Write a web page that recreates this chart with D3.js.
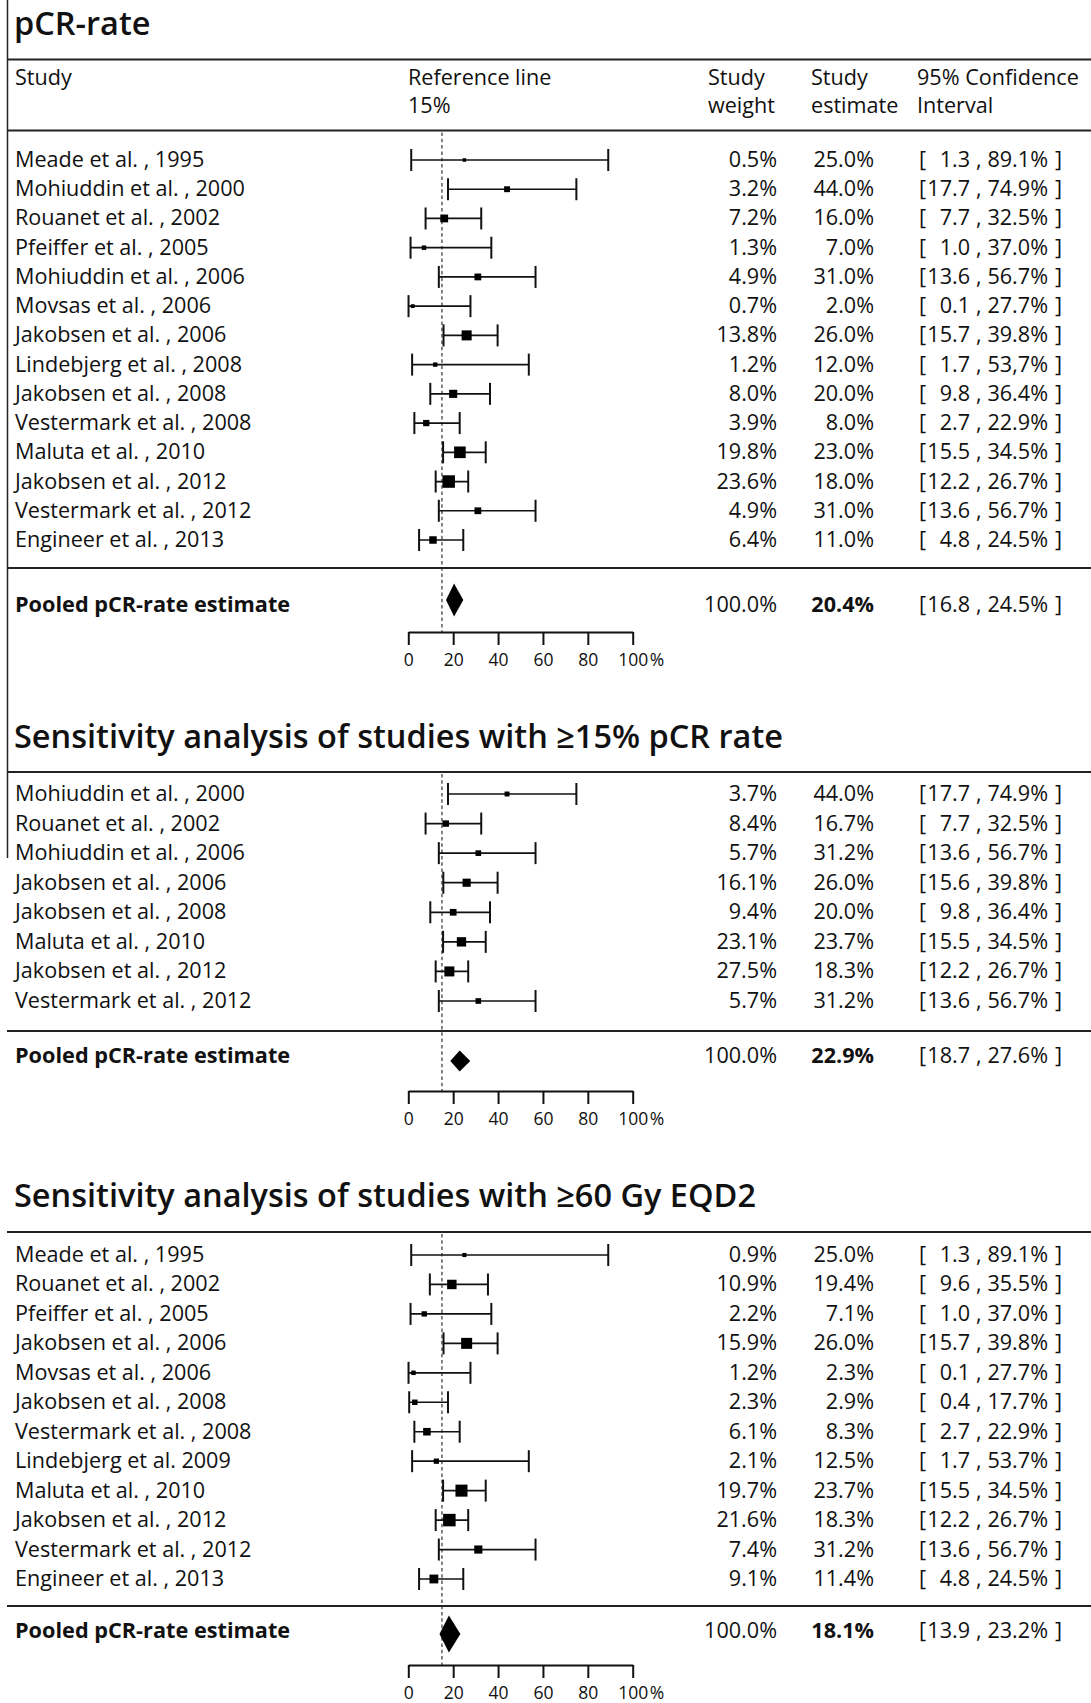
<!DOCTYPE html>
<html>
<head>
<meta charset="utf-8">
<script src="https://cdn.jsdelivr.net/npm/d3@7"></script>
<style>
  body { margin: 0; background: #fff; }
  svg text { font-family: "Open Sans", "Noto Sans", sans-serif; fill: #111; }
</style>
</head>
<body>
<svg id="chart" width="1091" height="1703"></svg>
<script>
// ---- Data: all studies (pCR-rate) ----
const allStudies = ["Meade et al. , 1995", "Mohiuddin et al. , 2000", "Rouanet et al. , 2002", "Pfeiffer et al. , 2005",
  "Mohiuddin et al. , 2006", "Movsas et al. , 2006", "Jakobsen et al. , 2006", "Lindebjerg et al. , 2008",
  "Jakobsen et al. , 2008", "Vestermark et al. , 2008", "Maluta et al. , 2010", "Jakobsen et al. , 2012",
  "Vestermark et al. , 2012", "Engineer et al. , 2013"];
const allWeight   = ["0.5", "3.2", "7.2", "1.3", "4.9", "0.7", "13.8", "1.2", "8.0", "3.9", "19.8", "23.6", "4.9", "6.4"];
const allEstimate = ["25.0", "44.0", "16.0", "7.0", "31.0", "2.0", "26.0", "12.0", "20.0", "8.0", "23.0", "18.0", "31.0", "11.0"];
const allLower    = ["1.3", "17.7", "7.7", "1.0", "13.6", "0.1", "15.7", "1.7", "9.8", "2.7", "15.5", "12.2", "13.6", "4.8"];
const allUpper    = ["89.1", "74.9", "32.5", "37.0", "56.7", "27.7", "39.8", "53,7", "36.4", "22.9", "34.5", "26.7", "56.7", "24.5"];
const allPooled   = { weight: "100.0", estimate: "20.4", lower: "16.8", upper: "24.5" };

// ---- Data: studies with >=15% pCR rate ----
const highStudies = ["Mohiuddin et al. , 2000", "Rouanet et al. , 2002", "Mohiuddin et al. , 2006", "Jakobsen et al. , 2006",
  "Jakobsen et al. , 2008", "Maluta et al. , 2010", "Jakobsen et al. , 2012", "Vestermark et al. , 2012"];
const highWeight   = ["3.7", "8.4", "5.7", "16.1", "9.4", "23.1", "27.5", "5.7"];
const highEstimate = ["44.0", "16.7", "31.2", "26.0", "20.0", "23.7", "18.3", "31.2"];
const highLower    = ["17.7", "7.7", "13.6", "15.6", "9.8", "15.5", "12.2", "13.6"];
const highUpper    = ["74.9", "32.5", "56.7", "39.8", "36.4", "34.5", "26.7", "56.7"];
const highPooled   = { weight: "100.0", estimate: "22.9", lower: "18.7", upper: "27.6" };

// ---- Data: studies with >=60 Gy EQD2 ----
const doseStudies = ["Meade et al. , 1995", "Rouanet et al. , 2002", "Pfeiffer et al. , 2005", "Jakobsen et al. , 2006",
  "Movsas et al. , 2006", "Jakobsen et al. , 2008", "Vestermark et al. , 2008", "Lindebjerg et al. 2009",
  "Maluta et al. , 2010", "Jakobsen et al. , 2012", "Vestermark et al. , 2012", "Engineer et al. , 2013"];
const doseWeight   = ["0.9", "10.9", "2.2", "15.9", "1.2", "2.3", "6.1", "2.1", "19.7", "21.6", "7.4", "9.1"];
const doseEstimate = ["25.0", "19.4", "7.1", "26.0", "2.3", "2.9", "8.3", "12.5", "23.7", "18.3", "31.2", "11.4"];
const doseLower    = ["1.3", "9.6", "1.0", "15.7", "0.1", "0.4", "2.7", "1.7", "15.5", "12.2", "13.6", "4.8"];
const doseUpper    = ["89.1", "35.5", "37.0", "39.8", "27.7", "17.7", "22.9", "53.7", "34.5", "26.7", "56.7", "24.5"];
const dosePooled   = { weight: "100.0", estimate: "18.1", lower: "13.9", upper: "23.2" };

const referenceLine = 15;
const axisTicks = [0, 20, 40, 60, 80, 100];

// values are kept as printed; a decimal comma is read as a point
const num = s => parseFloat(String(s).replace(",", "."));

const svg = d3.select("#chart");
const W = 1091;
const FS = "21.6px";

// shared horizontal scale for the percentage axis
const x = d3.scaleLinear().domain([0, 100]).range([408.3, 632.7]);

// column anchors
const col = { study: 15, weightR: 777, estR: 874, ciOpen: 919, ciLowR: 970, ciComma: 976, ciUpR: 1048, ciClose: 1055 };

const sections = [
  { title: "pCR-rate", titleY: 35, ruleTop: 59.5, header: true, ruleHead: 130.5,
    studies: allStudies, weight: allWeight, est: allEstimate, lo: allLower, hi: allUpper, pooled: allPooled,
    rows: [160, 540], ruleBottom: 568, diamondY: 600, diamondH: 33, pooledTextY: 612, axisY: 632, maxSide: 12.5 },
  { title: "Sensitivity analysis of studies with \u226515% pCR rate", titleY: 748, ruleTop: 772, header: false,
    studies: highStudies, weight: highWeight, est: highEstimate, lo: highLower, hi: highUpper, pooled: highPooled,
    rows: [794, 1001], ruleBottom: 1031, diamondY: 1061, diamondH: 21, pooledTextY: 1063, axisY: 1091, maxSide: 10 },
  { title: "Sensitivity analysis of studies with \u226560 Gy EQD2", titleY: 1207, ruleTop: 1232, header: false,
    studies: doseStudies, weight: doseWeight, est: doseEstimate, lo: doseLower, hi: doseUpper, pooled: dosePooled,
    rows: [1255, 1579], ruleBottom: 1606, diamondY: 1634, diamondH: 37, pooledTextY: 1638, axisY: 1665, maxSide: 12.5 }
];

// frame line on the left edge
svg.append("line").attr("x1", 7.5).attr("x2", 7.5).attr("y1", 0).attr("y2", 858)
  .attr("stroke", "#222").attr("stroke-width", 1.5);

function rule(y) {
  svg.append("line").attr("x1", 7).attr("x2", W).attr("y1", y).attr("y2", y)
    .attr("stroke", "#222").attr("stroke-width", 2);
}

function ciText(g, yBase, lo, hi) {
  const t = (xp, anchor, s) => g.append("text").attr("x", xp).attr("y", yBase)
    .attr("text-anchor", anchor).style("font-size", FS).text(s);
  t(col.ciOpen, "start", "[");
  t(col.ciLowR, "end", lo);
  t(col.ciComma, "start", ",");
  t(col.ciUpR, "end", hi + "%");
  t(col.ciClose, "start", "]");
}

sections.forEach(sec => {
  const g = svg.append("g");

  // section title
  g.append("text").attr("x", 14).attr("y", sec.titleY)
    .style("font-size", "32.5px").style("font-weight", 600).text(sec.title);

  rule(sec.ruleTop);

  let rowTop = sec.ruleTop;
  if (sec.header) {
    const h1 = 85, h2 = 113;
    const head = (xp, yp, s) => g.append("text").attr("x", xp).attr("y", yp).style("font-size", FS).text(s);
    head(col.study, h1, "Study");
    head(408, h1, "Reference line");
    head(408, h2, referenceLine + "%");
    head(708, h1, "Study");
    head(708, h2, "weight");
    head(811, h1, "Study");
    head(811, h2, "estimate");
    head(917, h1, "95% Confidence");
    head(917, h2, "Interval");
    rule(sec.ruleHead);
    rowTop = sec.ruleHead;
  }
  rule(sec.ruleBottom);

  // reference line
  g.append("line").attr("x1", x(referenceLine)).attr("x2", x(referenceLine))
    .attr("y1", rowTop + 2).attr("y2", sec.axisY)
    .attr("stroke", "#333").attr("stroke-width", 1.2).attr("stroke-dasharray", "3.5,2.8");

  const y = d3.scalePoint().domain(sec.studies).range(sec.rows);
  const side = d3.scaleSqrt().domain([0, d3.max(sec.weight, num)]).range([2, sec.maxSide]);
  const capH = 11;

  sec.studies.forEach((name, i) => {
    const yc = y(name);
    const lo = num(sec.lo[i]), hi = num(sec.hi[i]), est = num(sec.est[i]), w = num(sec.weight[i]);
    const row = g.append("g");
    row.append("text").attr("x", col.study).attr("y", yc + 7).style("font-size", FS).text(name);

    row.append("line").attr("x1", x(lo)).attr("x2", x(hi)).attr("y1", yc).attr("y2", yc)
      .attr("stroke", "#111").attr("stroke-width", 1.7);
    [lo, hi].forEach(v => row.append("line").attr("x1", x(v)).attr("x2", x(v))
      .attr("y1", yc - capH).attr("y2", yc + capH).attr("stroke", "#111").attr("stroke-width", 2));
    const s = side(w);
    row.append("rect").attr("x", x(est) - s / 2).attr("y", yc - s / 2).attr("width", s).attr("height", s)
      .attr("fill", "#000");

    row.append("text").attr("x", col.weightR).attr("y", yc + 7).attr("text-anchor", "end")
      .style("font-size", FS).text(sec.weight[i] + "%");
    row.append("text").attr("x", col.estR).attr("y", yc + 7).attr("text-anchor", "end")
      .style("font-size", FS).text(sec.est[i] + "%");
    ciText(row, yc + 7, sec.lo[i], sec.hi[i]);
  });

  // pooled estimate
  const p = sec.pooled;
  const pl = num(p.lower), pu = num(p.upper), pe = num(p.estimate), dh = sec.diamondH / 2;
  g.append("path")
    .attr("d", `M${x(pl)},${sec.diamondY} L${x(pe)},${sec.diamondY - dh} L${x(pu)},${sec.diamondY} L${x(pe)},${sec.diamondY + dh} Z`)
    .attr("fill", "#000");
  g.append("text").attr("x", col.study).attr("y", sec.pooledTextY)
    .style("font-size", "21.7px").style("font-weight", 700).text("Pooled pCR-rate estimate");
  g.append("text").attr("x", col.weightR).attr("y", sec.pooledTextY).attr("text-anchor", "end")
    .style("font-size", FS).text(p.weight + "%");
  g.append("text").attr("x", col.estR).attr("y", sec.pooledTextY).attr("text-anchor", "end")
    .style("font-size", FS).style("font-weight", 700).text(p.estimate + "%");
  ciText(g, sec.pooledTextY, p.lower, p.upper);

  // percentage axis
  const ax = g.append("g").attr("transform", `translate(0,${sec.axisY})`)
    .call(d3.axisBottom(x).tickValues(axisTicks).tickSize(13).tickSizeOuter(0).tickPadding(9));
  ax.select(".domain").attr("stroke", "#111").attr("stroke-width", 2);
  ax.selectAll(".tick line").attr("stroke", "#111").attr("stroke-width", 2);
  ax.selectAll(".tick text").style("font-size", "17.5px").style("font-family", "Open Sans").attr("fill", "#111");
  ax.append("text").attr("x", x(100) + 17).attr("y", 22).attr("dy", "0.71em")
    .attr("text-anchor", "start").style("font-size", "17.5px").attr("fill", "#111").text("%");
});
</script>
</body>
</html>
